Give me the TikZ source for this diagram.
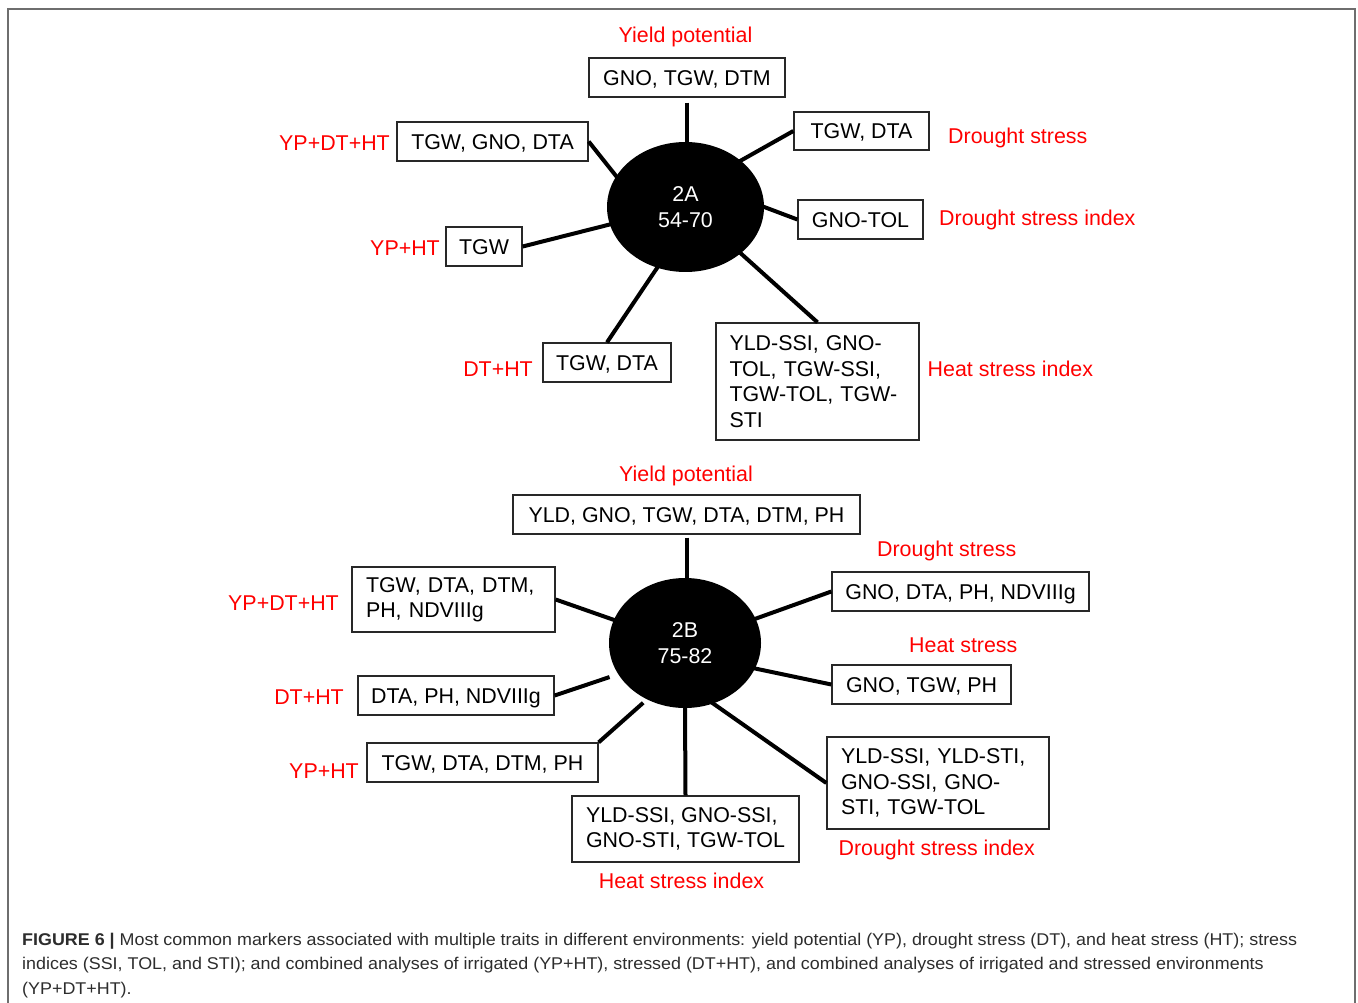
\documentclass[tikz,border=0pt]{standalone}
\usepackage{fontspec}
\setmainfont{Liberation Sans}
\newfontfamily\capfont{Liberation Sans}
\usetikzlibrary{shapes.geometric,calc}
\definecolor{capgray}{RGB}{45,45,45}
\definecolor{framegray}{RGB}{110,110,110}
\definecolor{boxgray}{RGB}{40,40,40}
\newlength\caplen
\newcommand\mycapA{\textbf{FIGURE 6 |} Most common markers associated with multiple traits in different environments: yield potential (YP), drought stress (DT), and heat stress (HT); stress}
\newcommand\mycapB{indices (SSI, TOL, and STI); and combined analyses of irrigated (YP+HT), stressed (DT+HT), and combined analyses of irrigated and stressed environments}
\newcommand\mycapC{(YP+DT+HT).}
\newcommand\capsetup{\capfont\fontsize{17}{24.5}\selectfont}
\AtBeginDocument{%
  \settowidth\caplen{\capsetup\mycapA}%
  \pgfmathsetmacro\capsx{1275/\caplen}%
  \global\let\capsx\capsx}
\tikzset{
  box/.style={draw=boxgray, line width=1.3pt, fill=white, inner sep=0pt,
    minimum height=39pt, font=\fontsize{21.4}{25.5}\selectfont,
    text height=15.3pt, text depth=0pt},
  mbox/.style={draw=boxgray, line width=1.3pt, fill=white, inner ysep=0pt,
    align=left, font=\fontsize{21.4}{25.5}\selectfont},
  lab/.style={text=red, inner sep=0pt, font=\fontsize{21.4}{25.5}\selectfont,
    text height=15.3pt, text depth=0pt},
  hub/.style={ellipse, fill=black, text=white, inner sep=0pt, align=center,
    font=\fontsize{21.4}{25.3}\selectfont},
  conn/.style={line width=4pt, black},
  tohub/.style={conn, shorten >=-3pt},
}
\begin{document}
\begin{tikzpicture}[x=1pt, y=-1pt]
\useasboundingbox (0,0) rectangle (1358,1003);
\fill[white] (0,0) rectangle (1358,1003);
\draw[framegray, line width=1.8pt] (8,1003) -- (8,9) -- (1355,9) -- (1355,1003);

% ---------- 2A ----------
\node[hub, minimum width=157pt, minimum height=130pt] (e2a) at (685.5,207) {2A\\54-70};

\node[box, minimum width=196pt] (a_yp) at (687,77.5) {GNO, TGW, DTM};
\node[box, minimum width=191pt] (a_ydh) at (492.5,141.5) {TGW, GNO, DTA};
\node[box, minimum width=76pt] (a_yh) at (484,246.5) {TGW};
\node[box, minimum width=135pt, minimum height=38pt] (a_ds) at (861.5,131) {TGW, DTA};
\node[box, minimum width=125pt] (a_dsi) at (860.5,219.5) {GNO-TOL};
\node[box, minimum width=128pt] (a_dh) at (607,362.5) {TGW, DTA};
\node[mbox, text width=176pt, inner xsep=13.5pt, minimum height=117pt] (a_hsi) at (817.5,381.5)
  {YLD-SSI, GNO-\\TOL, TGW-SSI,\\TGW-TOL, TGW-\\STI};

\node[lab] (l_a_yp) at (685.5,35) {Yield potential};
\node[lab, anchor=east] (l_a_ydh) at (390,143.2) {YP+DT+HT};
\node[lab, anchor=east] (l_a_yh) at (440,248.2) {YP+HT};
\node[lab, anchor=west] (l_a_ds) at (948,135.8) {Drought stress};
\node[lab, anchor=west] (l_a_dsi) at (939,218.2) {Drought stress index};
\node[lab, anchor=east] (l_a_dh) at (533,369.2) {DT+HT};
\node[lab, anchor=west] (l_a_hsi) at (927.5,368.5) {Heat stress index};

\draw[tohub] ([yshift=-5pt]a_yp.south) -- (a_yp.south |- e2a.north);
\draw[tohub] (a_ydh.east) -- (e2a.156);
\draw[tohub] (a_yh.east) -- (e2a.193);
\draw[tohub] (a_ds.west) -- (e2a.40);
\draw[tohub] (a_dsi.west) -- (e2a.0);
\draw[tohub] (a_dh.north) -- (e2a.245);
\draw[tohub] (a_hsi.north) -- (e2a.320);

% ---------- 2B ----------
\node[hub, minimum width=152pt, minimum height=130pt] (e2b) at (685,643) {2B\\75-82};

\node[box, minimum width=347pt] (b_yp) at (686.5,514.5) {YLD, GNO, TGW, DTA, DTM, PH};
\node[mbox, text width=175pt, inner xsep=14pt, minimum height=65pt] (b_ydh) at (453.5,599.5)
  {TGW, DTA, DTM,\\PH, NDVIIIg};
\node[box, minimum width=196pt] (b_dh) at (456,695.5) {DTA, PH, NDVIIIg};
\node[box, minimum width=231pt] (b_yh) at (482.5,762.5) {TGW, DTA, DTM, PH};
\node[box, minimum width=257pt] (b_ds) at (960.5,591.5) {GNO, DTA, PH, NDVIIIg};
\node[box, minimum width=179pt] (b_hs) at (921.5,684.5) {GNO, TGW, PH};
\node[mbox, text width=194pt, inner xsep=14pt, minimum height=92pt] (b_dsi) at (938,783)
  {YLD-SSI, YLD-STI,\\GNO-SSI, GNO-\\STI, TGW-TOL};
\node[mbox, inner xsep=0pt, minimum width=227pt, minimum height=66pt] (b_hsi) at (685.5,829)
  {YLD-SSI, GNO-SSI,\\GNO-STI, TGW-TOL};

\node[lab] (l_b_yp) at (686,474.2) {Yield potential};
\node[lab, anchor=east] (l_b_ydh) at (339,602.8) {YP+DT+HT};
\node[lab, anchor=east] (l_b_dh) at (344,697.2) {DT+HT};
\node[lab, anchor=east] (l_b_yh) at (359,770.5) {YP+HT};
\node[lab] (l_b_ds) at (946.7,549.2) {Drought stress};
\node[lab] (l_b_hs) at (963.3,645.2) {Heat stress};
\node[lab] (l_b_dsi) at (936.7,847.5) {Drought stress index};
\node[lab] (l_b_hsi) at (681.5,881) {Heat stress index};

\draw[tohub] ([yshift=-3pt]b_yp.south) -- (b_yp.south |- e2b.north);
\draw[tohub] (b_ydh.east) -- (e2b.162);
\draw[conn, shorten >=9pt] (b_dh.east) -- (e2b.205);
\draw[conn, shorten >=5pt] (b_yh.north east) -- (e2b.236);
\draw[tohub] (b_ds.west) -- (e2b.19);
\draw[tohub] (b_hs.west) -- (e2b.340);
\draw[tohub] (b_dsi.west) -- (e2b.295);
\draw[tohub] (b_hsi.north) -- (e2b.south);

% ---------- caption ----------
\node[anchor=base west, inner sep=0pt, text=capgray] (cap1) at (22,945)
  {\capsetup\scalebox{\capsx}[1]{\mycapA}};
\node[anchor=base west, inner sep=0pt, text=capgray] (cap2) at (22,969.5)
  {\capsetup\scalebox{\capsx}[1]{\mycapB}};
\node[anchor=base west, inner sep=0pt, text=capgray] (cap3) at (22,994)
  {\capsetup\scalebox{\capsx}[1]{\mycapC}};
\end{tikzpicture}
\end{document}
